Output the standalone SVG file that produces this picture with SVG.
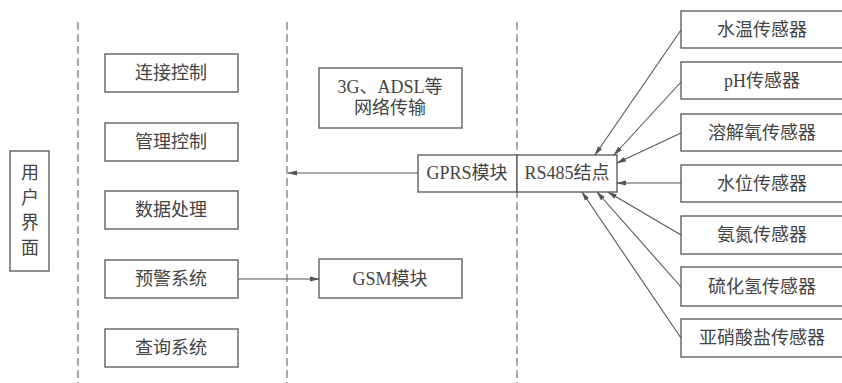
<svg xmlns="http://www.w3.org/2000/svg" width="842" height="383" viewBox="0 0 842 383">
<defs>
<marker id="ah" markerWidth="10" markerHeight="6" refX="9" refY="3" orient="auto" markerUnits="userSpaceOnUse">
<path d="M0,0.5 L10,3 L0,5.5 Z" fill="#555"/>
</marker>
<style>
.bx{fill:#fff;stroke:#555;stroke-width:1.3}
.t{font-family:"Liberation Serif","Noto Sans CJK SC",serif;font-size:18px;fill:#444;text-anchor:middle}
.dash{stroke:#666;stroke-width:1.1;stroke-dasharray:8 4;fill:none}
.ln{stroke:#555;stroke-width:1.1;fill:none;marker-end:url(#ah)}
</style>
</defs>
<rect width="842" height="383" fill="#fff"/>
<g id="dividers">
<line class="dash" x1="78" y1="22" x2="78" y2="383"/>
<line class="dash" x1="287" y1="22" x2="287" y2="383"/>
<line class="dash" x1="517" y1="22" x2="517" y2="383"/>
</g>
<g id="ui"><rect class="bx" x="10" y="151" width="39" height="120"/>
<text class="t" x="30" y="179">用</text><text class="t" x="30" y="204">户</text><text class="t" x="30" y="229">界</text><text class="t" x="30" y="254">面</text></g>
<g id="lianjie"><rect class="bx" x="105" y="54" width="133" height="38"/><text class="t" x="171" y="79">连接控制</text></g>
<g id="guanli"><rect class="bx" x="105" y="123" width="133" height="38"/><text class="t" x="171" y="148">管理控制</text></g>
<g id="shuju"><rect class="bx" x="105" y="191" width="133" height="38"/><text class="t" x="171" y="216">数据处理</text></g>
<g id="yujing"><rect class="bx" x="105" y="260" width="133" height="38"/><text class="t" x="171" y="285">预警系统</text></g>
<g id="chaxun"><rect class="bx" x="105" y="329" width="133" height="38"/><text class="t" x="171" y="354">查询系统</text></g>
<g id="net"><rect class="bx" x="319" y="68" width="143" height="60"/><text class="t" x="390" y="93">3G、ADSL等</text><text class="t" x="390" y="114">网络传输</text></g>
<g id="gsm"><rect class="bx" x="319" y="259" width="143" height="39"/><text class="t" x="390" y="285">GSM模块</text></g>
<g id="gprs"><rect class="bx" x="418" y="155" width="99" height="37"/><text class="t" x="467" y="179">GPRS模块</text></g>
<g id="rs485"><rect class="bx" x="517" y="155" width="100" height="37"/><text class="t" x="567" y="179">RS485结点</text></g>
<g id="s1"><rect class="bx" x="681" y="11" width="165" height="37"/><text class="t" x="762" y="36">水温传感器</text></g>
<g id="s2"><rect class="bx" x="681" y="62" width="165" height="37"/><text class="t" x="762" y="87">pH传感器</text></g>
<g id="s3"><rect class="bx" x="681" y="114" width="165" height="37"/><text class="t" x="762" y="139">溶解氧传感器</text></g>
<g id="s4"><rect class="bx" x="681" y="165" width="165" height="37"/><text class="t" x="762" y="190">水位传感器</text></g>
<g id="s5"><rect class="bx" x="681" y="216" width="165" height="38"/><text class="t" x="762" y="241">氨氮传感器</text></g>
<g id="s6"><rect class="bx" x="681" y="267" width="165" height="39"/><text class="t" x="762" y="293">硫化氢传感器</text></g>
<g id="s7"><rect class="bx" x="681" y="319" width="165" height="38"/><text class="t" x="762" y="344">亚硝酸盐传感器</text></g>
<g id="connectors">
<line class="ln" x1="418" y1="173" x2="288" y2="173"/>
<line class="ln" x1="238" y1="279" x2="319" y2="279"/>
<line class="ln" x1="681" y1="30" x2="595" y2="155"/>
<line class="ln" x1="681" y1="82" x2="614" y2="155"/>
<line class="ln" x1="681" y1="133" x2="617" y2="163"/>
<line class="ln" x1="681" y1="183" x2="617" y2="183"/>
<line class="ln" x1="681" y1="235" x2="608" y2="192"/>
<line class="ln" x1="681" y1="287" x2="597" y2="192"/>
<line class="ln" x1="681" y1="338" x2="582" y2="192"/>
</g>
</svg>
